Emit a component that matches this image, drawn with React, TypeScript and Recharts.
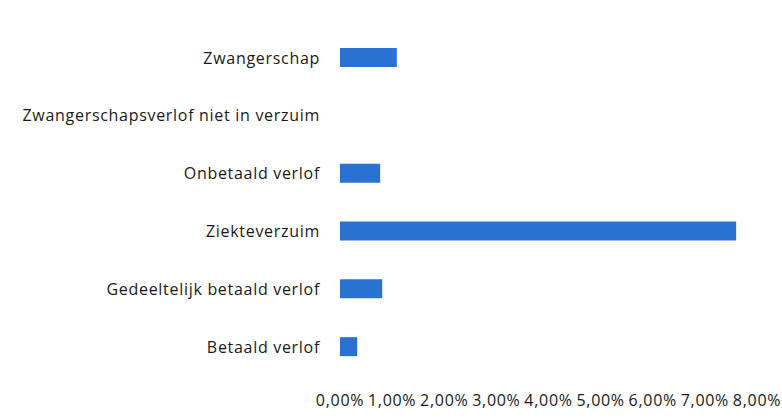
import { BarChart, Bar, XAxis, YAxis } from 'recharts';

const categories = [
  'Zwangerschap',
  'Zwangerschapsverlof niet in verzuim',
  'Onbetaald verlof',
  'Ziekteverzuim',
  'Gedeeltelijk betaald verlof',
  'Betaald verlof',
];
const percentages = [0.0109, 0, 0.0077, 0.076, 0.0081, 0.0033];
const xTicks = [0, 0.01, 0.02, 0.03, 0.04, 0.05, 0.06, 0.07, 0.08];

const data = categories.map((name, i) => ({ name, value: percentages[i] }));

const tickStyle = {
  fill: '#1a1a1a',
  fontSize: 16,
  letterSpacing: 0.7,
  fontFamily: '"Open Sans", "Liberation Sans", sans-serif',
};

const formatPct = (v: number) => `${(v * 100).toFixed(2).replace('.', ',')}%`;

export default function App() {
  return (
    <div style={{ position: 'absolute', left: 0, top: 0, background: '#fff' }}>
      <BarChart
        width={782}
        height={418}
        layout="vertical"
        data={data}
        margin={{ top: 29, right: 25, left: 0, bottom: 0 }}
        barSize={19}
      >
        <XAxis
          type="number"
          domain={[0, 0.08]}
          ticks={xTicks}
          tickFormatter={formatPct}
          axisLine={false}
          tickLine={false}
          tickSize={0}
          tickMargin={19}
          height={42}
          interval={0}
          tick={tickStyle}
        />
        <YAxis
          type="category"
          dataKey="name"
          width={340}
          axisLine={false}
          tickLine={false}
          tickSize={0}
          tickMargin={20}
          interval={0}
          tick={tickStyle}
        />
        <Bar dataKey="value" fill="#2a72d2" isAnimationActive={false} />
      </BarChart>
    </div>
  );
}
